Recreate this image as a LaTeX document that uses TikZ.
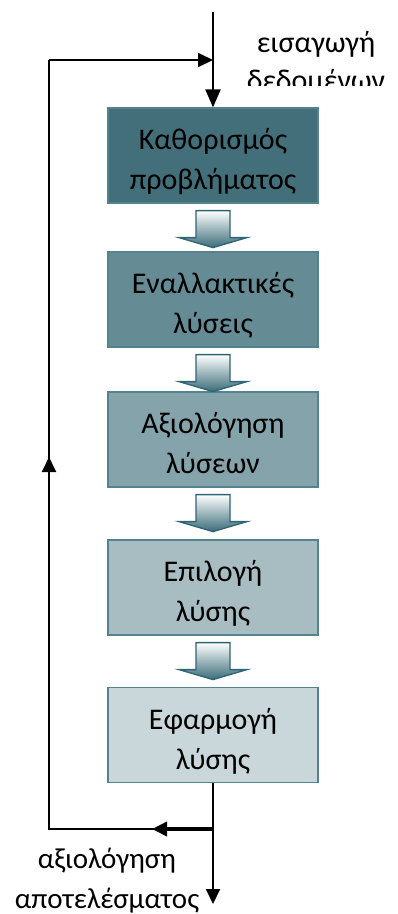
\documentclass[tikz,border=0pt]{standalone}
\usepackage{fontspec}
\setmainfont{Carlito}
\usetikzlibrary{arrows.meta}
\definecolor{fillA}{HTML}{426F79}
\definecolor{fillB}{HTML}{658C95}
\definecolor{fillC}{HTML}{84A3AA}
\definecolor{fillD}{HTML}{A7BDC2}
\definecolor{fillE}{HTML}{C9D7DB}
\definecolor{boxline}{HTML}{54838E}
\definecolor{arrowline}{HTML}{2F6472}
\definecolor{arrowdark}{HTML}{3A6C78}
\newcommand\boxlines[2]{\raisebox{0pt}[\dimexpr\height+12pt\relax][\depth]{\begin{tabular}{@{}c@{}}#1\\#2\end{tabular}}}
\tikzset{
  procbox/.style={draw=boxline, line width=1.2pt, minimum width=210pt, minimum height=95pt,
    inner sep=0pt, font=\fontsize{30}{40}\selectfont},
  lbl/.style={inner sep=0pt, anchor=base, font=\fontsize{30}{38}\selectfont},
  lblsmall/.style={inner sep=0pt, anchor=base, font=\fontsize{29}{38}\selectfont},
  conn/.style={line width=2pt, draw=black},
  tipA/.tip={Triangle[length=15pt,width=14pt]},
  tipB/.tip={Triangle[length=18pt,width=15pt]},
  barrow/.pic={
    \shade[top color=white, bottom color=arrowdark, draw=arrowline, line width=1.3pt, line join=miter]
      (-17,7) -- (17,7) -- (17,34) -- (34,34) -- (0,44) -- (-34,34) -- (-17,34) -- cycle;
  }
}
\begin{document}
\begin{tikzpicture}[x=1pt,y=-1pt]
\useasboundingbox (0,0) rectangle (398,914);
% boxes
\node[procbox, fill=fillA] (b1) at (213,155.5) {\boxlines{Καθορισμός}{προβλήματος}};
\node[procbox, fill=fillB] (b2) at (213,299.5) {\boxlines{Εναλλακτικές}{λύσεις}};
\node[procbox, fill=fillC] (b3) at (213,439.5) {\boxlines{Αξιολόγηση}{λύσεων}};
\node[procbox, fill=fillD] (b4) at (213,587.5) {\boxlines{Επιλογή}{λύσης}};
\node[procbox, fill=fillE] (b5) at (213,735) {\boxlines{Εφαρμογή}{λύσης}};
% block arrows
\pic at (b1.south) {barrow};
\pic at (b2.south) {barrow};
\pic at (b3.south) {barrow};
\pic at (b4.south) {barrow};
% coordinates
\coordinate (in) at (213,12);
\coordinate (lt) at (49,60);
\coordinate (jn) at (213,60);
\coordinate (lb) at (49,829);
\coordinate (jb) at (213,829);
\coordinate (lm) at (49,457);
\coordinate (bm) at (152,829);
\coordinate (out) at (213,904);
% connectors
\draw[conn, -{tipB}] (in) -- (b1.north);
\draw[conn, -{tipA}] (lt) -- (jn);
\draw[conn] (jb) -- (lb) -- (lt);
\draw[conn, -{tipA}] (lb) -- (lm);
\draw[line width=3.5pt, -{tipA}] (jb) -- (bm);
\draw[conn, -{tipA}] (b5.south) -- (out);
% labels
\node[lbl] (t1) at (316,52) {εισαγωγή};
\begin{scope}
  \clip (230,0) rectangle (398,85);
  \node[lbl] (t2) at (316,90) {δεδομένων};
\end{scope}
\node[lblsmall] (t3) at (107,868) {αξιολόγηση};
\node[lblsmall] (t4) at (107,908) {αποτελέσματος};
\end{tikzpicture}
\end{document}
